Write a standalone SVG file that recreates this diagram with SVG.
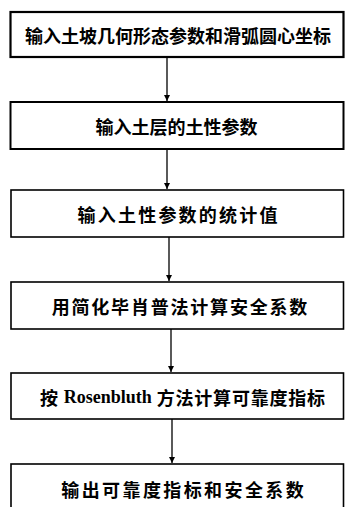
<svg xmlns="http://www.w3.org/2000/svg" width="345" height="507" viewBox="0 0 345 507">
<style>
.box{fill:#fff;stroke:#000;stroke-width:1.6}
.t{font-family:"Noto Sans CJK SC","Noto Sans",sans-serif;font-size:18px;font-weight:bold;text-anchor:middle;dominant-baseline:central;fill:#000}
.lat{font-family:"Liberation Serif",serif;font-weight:bold;letter-spacing:0}
.c{stroke:#000;stroke-width:1.3;fill:none}
</style>
<defs>
<marker id="ah" markerWidth="6" markerHeight="8" refX="6" refY="4" orient="auto" markerUnits="userSpaceOnUse">
<path d="M0,1 L6,4 L0,7 Z" fill="#000"/>
</marker>
</defs>
<rect width="345" height="507" fill="#fff"/>
<g id="connectors">
<line class="c" x1="167" y1="57" x2="167" y2="101" marker-end="url(#ah)"/>
<line class="c" x1="167" y1="149" x2="167" y2="189" marker-end="url(#ah)"/>
<line class="c" x1="169" y1="237" x2="169" y2="281" marker-end="url(#ah)"/>
<line class="c" x1="171" y1="329" x2="171" y2="372" marker-end="url(#ah)"/>
<line class="c" x1="172" y1="419" x2="172" y2="463" marker-end="url(#ah)"/>
</g>
<g id="n1">
<rect class="box" x="10.5" y="12" width="333" height="45" style="stroke-width:2.2"/>
<text class="t" x="178" y="35">输入土坡几何形态参数和滑弧圆心坐标</text>
</g>
<g id="n2">
<rect class="box" x="10.5" y="102" width="333" height="47" style="stroke-width:2"/>
<text class="t" x="176.5" y="126">输入土层的土性参数</text>
</g>
<g id="n3">
<rect class="box" x="11" y="190" width="332.5" height="47"/>
<text class="t" x="178.6" y="214" style="letter-spacing:2.2px">输入土性参数的统计值</text>
</g>
<g id="n4">
<rect class="box" x="11" y="282" width="332.5" height="47"/>
<text class="t" x="180.4" y="306" style="letter-spacing:1.8px">用简化毕肖普法计算安全系数</text>
</g>
<g id="n5">
<rect class="box" x="11" y="373" width="332.5" height="46"/>
<text class="t" x="183" y="397" style="letter-spacing:0.8px">按 <tspan class="lat">Rosenbluth</tspan> 方法计算可靠度指标</text>
</g>
<g id="n6">
<rect class="box" x="11" y="464" width="332.5" height="50"/>
<text class="t" x="183.7" y="489" style="letter-spacing:2.4px">输出可靠度指标和安全系数</text>
</g>
</svg>
